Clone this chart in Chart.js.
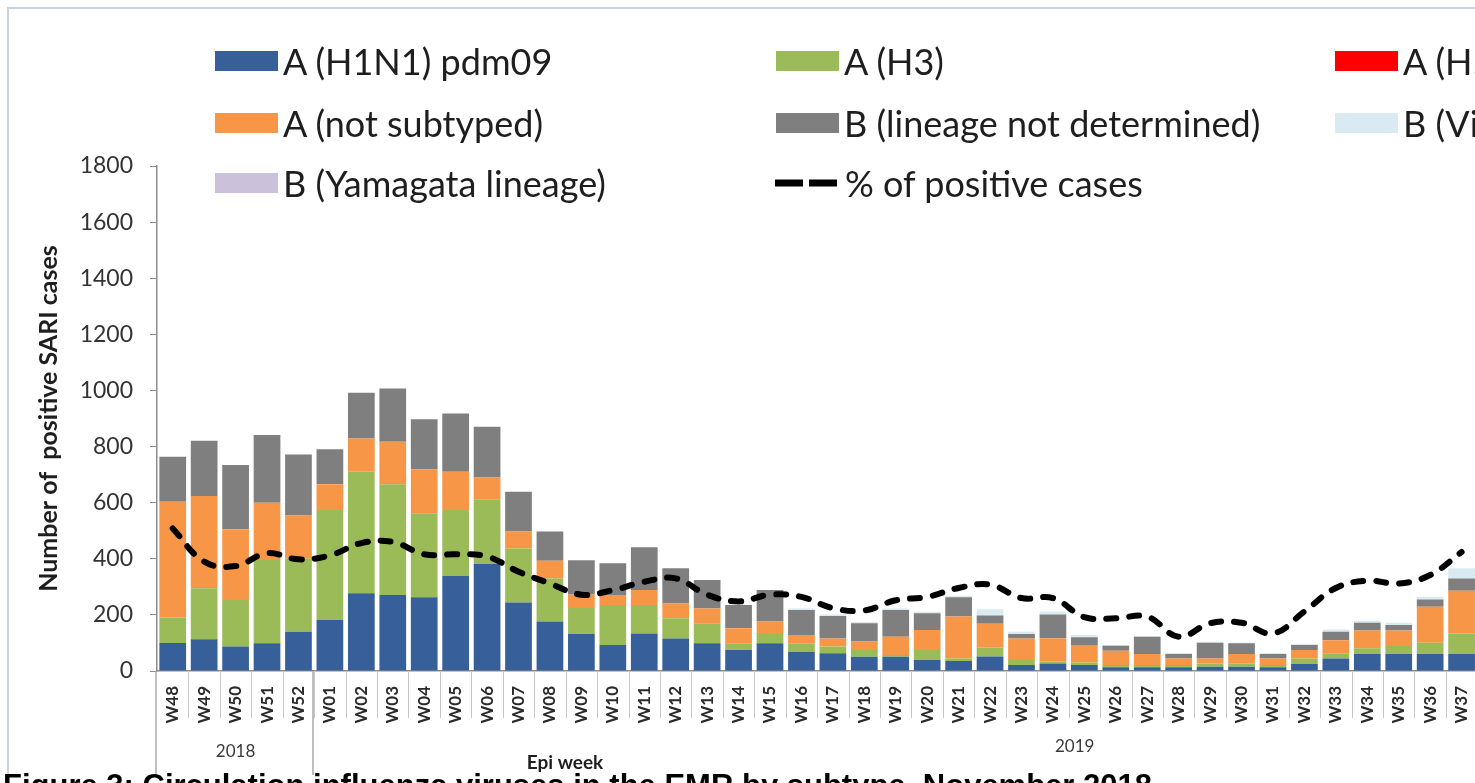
<!DOCTYPE html>
<html>
<head>
<meta charset="utf-8">
<script src="https://cdn.jsdelivr.net/npm/chart.js@4.4.1/dist/chart.umd.min.js"></script>
<style>
  html, body { margin: 0; padding: 0; background: #fff; overflow: hidden; width: 1475px; height: 783px; }
  #frame { position: absolute; left: 7px; top: 7px; width: 1520px; height: 820px; border: 2px solid #c8d3e0; box-sizing: border-box; }
  #wrap { position: absolute; left: 0; top: 0; width: 1489px; height: 783px; }
  #legend { position: absolute; left: 0; top: 0; width: 1700px; height: 210px; font-family: Lato, sans-serif; font-size: 36px; color: #1e1e1e; }
  .item { position: absolute; display: flex; align-items: center; white-space: nowrap; transform: translateY(-50%); }
  .swatch { width: 63px; height: 20px; margin-right: 5px; }
  #caption { position: absolute; left: 3px; top: 768px; line-height: 31px; font: bold 31px 'Liberation Sans', Arial, sans-serif; color: #000; white-space: nowrap; }
</style>
</head>
<body>
<div id="frame"></div>
<div id="wrap"><canvas id="fluChart"></canvas></div>
<div id="legend"></div>
<div id="caption">Figure 3: Circulation influenza viruses in the EMR by subtype, November 2018</div>
<script>
const weeks = ['W48', 'W49', 'W50', 'W51', 'W52',
    'W01', 'W02', 'W03', 'W04', 'W05', 'W06', 'W07', 'W08', 'W09', 'W10',
    'W11', 'W12', 'W13', 'W14', 'W15', 'W16', 'W17', 'W18', 'W19', 'W20',
    'W21', 'W22', 'W23', 'W24', 'W25', 'W26', 'W27', 'W28', 'W29', 'W30',
    'W31', 'W32', 'W33', 'W34', 'W35', 'W36', 'W37'];

// number of positive SARI cases per subtype
const h1n1 = [100, 113, 87, 99, 140,
    182, 277, 271, 263, 339, 381, 244, 176, 132, 93,
    134, 116, 99, 75, 99, 69, 63, 51, 51, 39,
    36, 52, 21, 27, 21, 13, 13, 13, 15, 15,
    13, 25, 45, 61, 61, 61, 61];
const h3 = [91, 182, 166, 297, 262,
    392, 433, 395, 299, 235, 231, 193, 154, 93, 142,
    101, 72, 71, 24, 33, 30, 24, 24, 6, 36,
    9, 32, 18, 6, 9, 8, 8, 8, 12, 12,
    8, 20, 18, 20, 28, 40, 73];
const h5 = [0, 0, 0, 0, 0,
    0, 0, 0, 0, 0, 0, 0, 0, 0, 0,
    0, 0, 0, 0, 0, 0, 0, 0, 0, 0,
    0, 0, 0, 0, 0, 0, 0, 0, 0, 0,
    0, 0, 0, 0, 0, 0, 0];
const notSubtyped = [412, 329, 252, 204, 152,
    92, 119, 151, 157, 136, 78, 60, 63, 48, 36,
    54, 53, 53, 53, 44, 29, 29, 30, 65, 71,
    149, 84, 77, 84, 63, 51, 40, 24, 18, 34,
    24, 30, 47, 63, 55, 128, 152];
const bUnknown = [161, 197, 229, 241, 218,
    124, 163, 190, 178, 208, 181, 142, 104, 122, 113,
    152, 125, 101, 83, 113, 89, 80, 65, 95, 60,
    69, 30, 16, 84, 27, 18, 61, 16, 56, 38,
    16, 18, 30, 28, 20, 26, 44];
const bVictoria = [0, 0, 0, 0, 0,
    0, 0, 0, 0, 0, 0, 0, 0, 0, 0,
    0, 0, 0, 0, 0, 6, 5, 5, 6, 5,
    5, 22, 8, 11, 8, 3, 3, 3, 3, 3,
    3, 3, 8, 7, 8, 10, 36];
const bYamagata = [0, 0, 0, 0, 0,
    0, 0, 0, 0, 0, 0, 0, 0, 0, 0,
    0, 0, 0, 0, 0, 0, 0, 0, 0, 0,
    0, 0, 0, 0, 0, 0, 0, 0, 0, 0,
    0, 0, 0, 0, 0, 0, 0];
// % of positive cases (right axis, not visible in the crop)
const pctPositive = [12.7, 9.75, 9.35, 10.5, 9.95,
    10.3, 11.4, 11.5, 10.4, 10.4, 10.2, 8.85, 7.8, 6.8, 7.2,
    7.95, 8.25, 6.8, 6.2, 6.8, 6.6, 5.6, 5.4, 6.3, 6.6,
    7.4, 7.7, 6.5, 6.5, 4.8, 4.7, 4.85, 3.05, 4.25, 4.3,
    3.35, 5.3, 7.4, 8.05, 7.8, 8.55, 10.6];
const yTicks = [0, 200, 400, 600, 800, 1000, 1200, 1400, 1600, 1800];

const barSet = (label, data, color) => ({
    type: 'bar', label, data,
    backgroundColor: color,
    borderWidth: 0,
    categoryPercentage: 0.85,
    barPercentage: 1,
    order: 1
});

const decorPlugin = {
    id: 'decor',
    afterDraw(chart) {
        const { ctx, chartArea } = chart;
        const x = chart.scales.x;
        const axisY = chartArea.bottom;
        const half = (x.getPixelForValue(1) - x.getPixelForValue(0)) / 2;
        const firstW = weeks.indexOf('W01');
        ctx.save();
        // cell separators under the axis
        ctx.strokeStyle = '#c6c6c6';
        ctx.lineWidth = 1;
        weeks.forEach((w, i) => {
            const bx = Math.round(x.getPixelForValue(i) + half) + 0.5;
            ctx.beginPath();
            ctx.moveTo(bx, axisY);
            ctx.lineTo(bx, axisY + 47);
            ctx.stroke();
        });
        // year group lines
        ctx.strokeStyle = '#a9a9a9';
        ctx.lineWidth = 1.5;
        [0, firstW].forEach(i => {
            const bx = Math.round(x.getPixelForValue(i) - half) - 1;
            ctx.beginPath();
            ctx.moveTo(bx, axisY);
            ctx.lineTo(bx, axisY + 104);
            ctx.stroke();
        });
        ctx.fillStyle = '#3a3a3a';
        ctx.font = '17px Lato';
        ctx.textAlign = 'center';
        ctx.textBaseline = 'middle';
        const x2018 = (x.getPixelForValue(0) + x.getPixelForValue(firstW)) / 2 - half;
        ctx.fillText('2018', x2018, axisY + 81);
        const x2019 = (x.getPixelForValue(weeks.indexOf('W24')) + x.getPixelForValue(weeks.indexOf('W25'))) / 2;
        ctx.fillText('2019', x2019 + 6, axisY + 76);
        ctx.font = 'bold 19px Lato';
        ctx.fillStyle = '#1e1e1e';
        ctx.fillText('Epi week', 565, axisY + 92);
        ctx.restore();
    }
};

const fluChart = new Chart(document.getElementById('fluChart'), {
    data: {
        labels: weeks,
        datasets: [
            barSet('A (H1N1) pdm09', h1n1, '#37609a'),
            barSet('A (H3)', h3, '#9bbb59'),
            barSet('A (H5)', h5, '#ff0000'),
            barSet('A (not subtyped)', notSubtyped, '#f79646'),
            barSet('B (lineage not determined)', bUnknown, '#7f7f7f'),
            barSet('B (Victoria lineage)', bVictoria, '#d9eaf2'),
            barSet('B (Yamagata lineage)', bYamagata, '#ccc1da'),
            {
                type: 'line',
                label: '% of positive cases',
                data: pctPositive,
                yAxisID: 'y1',
                borderColor: '#000',
                borderWidth: 6,
                borderDash: [10, 13],
                borderCapStyle: 'round',
                pointRadius: 0,
                tension: 0.4,
                fill: false,
                order: 0
            }
        ]
    },
    options: {
        responsive: true,
        maintainAspectRatio: false,
        animation: false,
        layout: { padding: { top: 166, left: 0, right: 0, bottom: 0 } },
        plugins: { legend: { display: false }, tooltip: { enabled: false } },
        scales: {
            x: {
                stacked: true,
                grid: { display: false },
                border: { color: '#8c8c8c', width: 1.5 },
                ticks: {
                    autoSkip: false,
                    minRotation: 90,
                    maxRotation: 90,
                    padding: 7,
                    color: '#2a2a2a',
                    font: { family: 'Lato', size: 17, weight: 'bold' }
                },
                afterFit: (scale) => { scale.height = 112; }
            },
            y: {
                stacked: true,
                min: 0,
                max: 1800,
                afterBuildTicks: (scale) => { scale.ticks = yTicks.map(v => ({ value: v })); },
                grid: { drawOnChartArea: false, tickLength: 7, color: '#8c8c8c' },
                border: { color: '#8c8c8c', width: 1.5 },
                ticks: {
                    padding: 17,
                    color: '#333',
                    callback: (v) => String(v),
                    font: { family: 'Lato', size: 23 }
                },
                title: {
                    display: true,
                    text: 'Number of  positive SARI cases',
                    color: '#1e1e1e',
                    font: { family: 'Lato', size: 25, weight: 'bold' },
                    padding: { top: 34, bottom: 0 }
                },
                afterFit: (scale) => { scale.width = 157; }
            },
            y1: {
                display: false,
                position: 'right',
                min: 0,
                max: 45
            }
        }
    },
    plugins: [decorPlugin]
});

// legend laid out as in the original three-column grid
const legendBox = document.getElementById('legend');
const legendCols = [215, 776, 1335];
const legendRows = [61, 123, 183];
fluChart.data.datasets.forEach((ds, i) => {
    const item = document.createElement('div');
    item.className = 'item';
    item.style.left = (legendCols[i % 3] - (ds.type === 'line' ? 3 : 0)) + 'px';
    item.style.top = legendRows[Math.floor(i / 3)] + 'px';
    if (ds.type === 'line') {
        item.innerHTML = '<svg width="66" height="20" style="margin-right:6px"><line x1="2" y1="10" x2="64" y2="10" stroke="#000" stroke-width="7" stroke-dasharray="28 6"/></svg>';
    } else {
        const sw = document.createElement('div');
        sw.className = 'swatch';
        sw.style.background = ds.backgroundColor;
        item.appendChild(sw);
    }
    const txt = document.createElement('span');
    txt.textContent = ds.label;
    item.appendChild(txt);
    legendBox.appendChild(item);
});
</script>
</body>
</html>
